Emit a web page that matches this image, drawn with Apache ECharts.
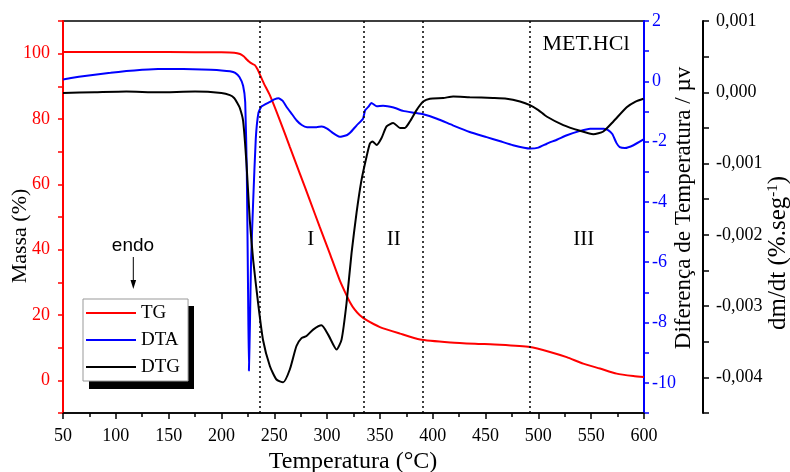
<!DOCTYPE html>
<html>
<head>
<meta charset="utf-8">
<script src="https://cdn.jsdelivr.net/npm/echarts@6/dist/echarts.min.js"></script>
<style>
html,body{margin:0;padding:0;background:#fff;}
#chart{width:790px;height:472px;}
</style>
</head>
<body>
<div id="chart"></div>
<script>
// ---- DATA ----
var tgT = [50,100,150,200,212,217.6,221,223.7,226,228.5,231.6,234,236,240,245.8,255.3,264.8,274.2,283.7,293.1,302.6,312,317,321.5,326,331,337.4,350,369,388,417,440,463.6,492,511,526.8,542.5,558.3,574.1,589.9,600];
var tgV = [100.5,100.5,100.5,100.4,100.3,99.9,99.2,98.3,97.6,97.0,96.5,95.3,93.9,91.0,87.3,79.6,71.4,63.3,55.1,46.9,38.8,30.6,27.0,24.0,21.7,19.9,18.4,16.3,14.3,12.5,11.6,11.2,10.9,10.2,8.7,7.1,5.1,3.6,2.05,1.3,1.0];

var dtaT = [50,65,80,95,110,125,140,155,173,190,200,208,213,217,220.5,222.5,224,225.2,226,227,228,230,232.5,235,238,246,250,254,258,262,267,271,276,281,290,295,300,305,309,312,315,319,322,328,334,336,339,342,347,353,363,372,382,391,404,419,435,451,464,476,492,500,508,518,527,538,549,562,566,570,574,577,582,590,600];
var dtaV = [0.06,0.15,0.22,0.28,0.34,0.38,0.41,0.41,0.40,0.38,0.36,0.33,0.28,0.14,-0.15,-0.7,-3.0,-7.0,-9.6,-8.0,-6.0,-4.0,-1.9,-1.05,-0.83,-0.68,-0.6,-0.56,-0.65,-0.87,-1.1,-1.29,-1.45,-1.52,-1.52,-1.5,-1.57,-1.7,-1.79,-1.84,-1.82,-1.78,-1.7,-1.46,-1.24,-0.96,-0.85,-0.72,-0.83,-0.81,-0.87,-0.98,-1.04,-1.09,-1.24,-1.46,-1.68,-1.85,-1.99,-2.12,-2.23,-2.2,-2.07,-1.93,-1.79,-1.66,-1.57,-1.57,-1.62,-1.75,-2.05,-2.18,-2.21,-2.12,-1.92];

var dtgT = [50,80,110,140,175,200,208,212,215,217.4,220.5,223.7,226.8,230,234.7,239.4,245.8,252.1,258.4,264.7,271,275.8,280.5,286.8,294.7,301,309,313.7,318.4,323.2,327.9,332.6,337.4,340.5,343,347,351.6,356.3,362.6,369,373.6,378.4,384.7,391,397.3,410,419.4,435,457,470,482.6,492,500,507.8,523.6,539.4,552,561.5,571,583.6,592,599.5];
var dtgV = [-0.00001,0,0.00001,0,0.00001,-0.00001,-0.00004,-0.00008,-0.00015,-0.00022,-0.00040,-0.00100,-0.00179,-0.00235,-0.00296,-0.00348,-0.00384,-0.00403,-0.00407,-0.00389,-0.00356,-0.00345,-0.00342,-0.00333,-0.00327,-0.00340,-0.00361,-0.00347,-0.00296,-0.00225,-0.00169,-0.00123,-0.00090,-0.00072,-0.00069,-0.00074,-0.00064,-0.00048,-0.00043,-0.00050,-0.00050,-0.00041,-0.00025,-0.00013,-0.00009,-0.00008,-0.00006,-0.00007,-0.00008,-0.00009,-0.00013,-0.00018,-0.00025,-0.00034,-0.00046,-0.00054,-0.00059,-0.00055,-0.00041,-0.00021,-0.00013,-0.00009];

var dividers = [236, 335, 391, 492];
var stages = [{t:'I', x:284.6}, {t:'II', x:363}, {t:'III', x:543}];

function zip(a, b){ return a.map(function(v,i){ return [v, b[i]]; }); }

var serif = '"Liberation Serif", "Times New Roman", serif';
var sans = '"Liberation Sans", Arial, sans-serif';

var chart = echarts.init(document.getElementById('chart'));
var option = {
  animation: false,
  backgroundColor: '#fff',
  grid: {left: 63, right: 146, top: 21, bottom: 59, show: true, borderColor: '#000', borderWidth: 1.5, backgroundColor: 'transparent'},
  legend: {
    orient: 'vertical', left: 83, top: 299,
    data: ['TG','DTA','DTG'],
    icon: 'rect', itemWidth: 50, itemHeight: 2, itemGap: 7,
    padding: [4, 8, 4, 3],
    backgroundColor: '#fff', borderColor: '#999', borderWidth: 1,
    textStyle: {fontFamily: serif, fontSize: 19, color: '#000', lineHeight: 20},
    z: 10
  },
  xAxis: {
    type: 'value', min: 50, max: 600, interval: 50,
    axisLine: {onZero: false, lineStyle: {color: '#000', width: 1.5}},
    axisTick: {length: 6, lineStyle: {color: '#000', width: 1.5}},
    minorTick: {show: true, splitNumber: 2, length: 4, lineStyle: {color: '#000', width: 1.5}},
    splitLine: {show: false},
    axisLabel: {fontFamily: serif, fontSize: 18, color: '#000', margin: 14}
  },
  yAxis: [
    {
      type: 'value', position: 'left', min: -10, max: 110, interval: 10,
      axisLine: {show: true, onZero: false, lineStyle: {color: '#ff0000', width: 2}},
      axisTick: {show: true, length: 5, lineStyle: {color: '#ff0000', width: 1.5}},
      splitLine: {show: false},
      axisLabel: {fontFamily: serif, fontSize: 18, color: '#ff0000', margin: 13,
        formatter: function(v){ return (v % 20 === 0 && v >= 0 && v <= 100) ? String(v) : ''; }}
    },
    {
      type: 'value', position: 'right', offset: 0, min: -11, max: 2, interval: 1,
      axisLine: {show: true, onZero: false, lineStyle: {color: '#0000ff', width: 2}},
      axisTick: {show: true, length: 5, lineStyle: {color: '#0000ff', width: 1.5}},
      splitLine: {show: false},
      axisLabel: {fontFamily: serif, fontSize: 18, color: '#0000ff', margin: 8,
        formatter: function(v){ var r = Math.round(v); return (r % 2 === 0) ? String(r) : ''; }}
    },
    {
      type: 'value', position: 'right', offset: 59, min: -0.0045, max: 0.001, interval: 0.0005,
      axisLine: {show: true, onZero: false, lineStyle: {color: '#000', width: 2}},
      axisTick: {show: true, length: 6, lineStyle: {color: '#000', width: 1.5}},
      splitLine: {show: false},
      axisLabel: {fontFamily: serif, fontSize: 18, color: '#000', margin: 13,
        formatter: function(v){
          var k = Math.round(v * 10000);
          if (k % 10 !== 0) return '';
          if (k === 0) return '0,000';
          return (k / 10000).toFixed(3).replace('.', ',');
        }}
    }
  ],
  series: [
    {name: 'TG', type: 'line', yAxisIndex: 0, data: zip(tgT, tgV), showSymbol: false, smooth: 0.2,
     lineStyle: {color: '#ff0000', width: 2}, itemStyle: {color: '#ff0000'}, z: 3},
    {name: 'DTA', type: 'line', yAxisIndex: 1, data: zip(dtaT, dtaV), showSymbol: false, smooth: 0.15,
     lineStyle: {color: '#0000ff', width: 2}, itemStyle: {color: '#0000ff'}, z: 3},
    {name: 'DTG', type: 'line', yAxisIndex: 2, data: zip(dtgT, dtgV), showSymbol: false, smooth: 0.2,
     lineStyle: {color: '#000', width: 2}, itemStyle: {color: '#000'}, z: 3,
     markLine: {symbol: 'none', silent: true, label: {show: false},
       lineStyle: {color: '#000', type: [2, 3], width: 1.5},
       data: dividers.map(function(t){ return {xAxis: t}; })}
    }
  ]
};
chart.setOption(option);

// annotations placed via the chart's own scales
function px(t, m){ return chart.convertToPixel({xAxisIndex: 0, yAxisIndex: 0}, [t, m]); }
var g = [];
// legend drop shadow
g.push({type: 'rect', z: 5, shape: {x: 89, y: 306, width: 105, height: 83}, style: {fill: '#000'}});
stages.forEach(function(s){
  var p = px(s.x, 43);
  g.push({type: 'text', x: p[0], y: p[1], style: {text: s.t, font: '21px ' + serif, fill: '#000', align: 'center', verticalAlign: 'middle'}});
});
g.push({type: 'text', x: 586, y: 44, style: {text: 'MET.HCl', font: '22px ' + serif, fill: '#000', align: 'center', verticalAlign: 'middle'}});
g.push({type: 'text', x: 133, y: 246, style: {text: 'endo', font: '19px ' + sans, fill: '#000', align: 'center', verticalAlign: 'middle'}});
g.push({type: 'line', shape: {x1: 133.3, y1: 257, x2: 133.3, y2: 282}, style: {stroke: '#000', lineWidth: 1}});
g.push({type: 'polygon', shape: {points: [[130.5, 280], [136.1, 280], [133.3, 289]]}, style: {fill: '#000'}});
g.push({type: 'text', x: 20, y: 236, rotation: Math.PI / 2, style: {text: 'Massa (%)', font: '22px ' + serif, fill: '#000', align: 'center', verticalAlign: 'middle'}});
g.push({type: 'text', x: 353, y: 462, style: {text: 'Temperatura (°C)', font: '24px ' + serif, fill: '#000', align: 'center', verticalAlign: 'middle'}});
g.push({type: 'text', x: 684, y: 208, rotation: Math.PI / 2, style: {text: 'Diferença de Temperatura / µv', font: '23px ' + serif, fill: '#000', align: 'center', verticalAlign: 'middle'}});
g.push({type: 'text', x: 778, y: 253, rotation: Math.PI / 2, style: {rich: {a: {font: '25px ' + serif, fill: '#000'}, s: {font: '15px ' + serif, fill: '#000', verticalAlign: 'top', padding: [0,0,9,0]}}, text: '{a|dm/dt (%.seg}{s|-1}{a|)}', align: 'center', verticalAlign: 'middle'}});
chart.setOption({graphic: g});
</script>
</body>
</html>
